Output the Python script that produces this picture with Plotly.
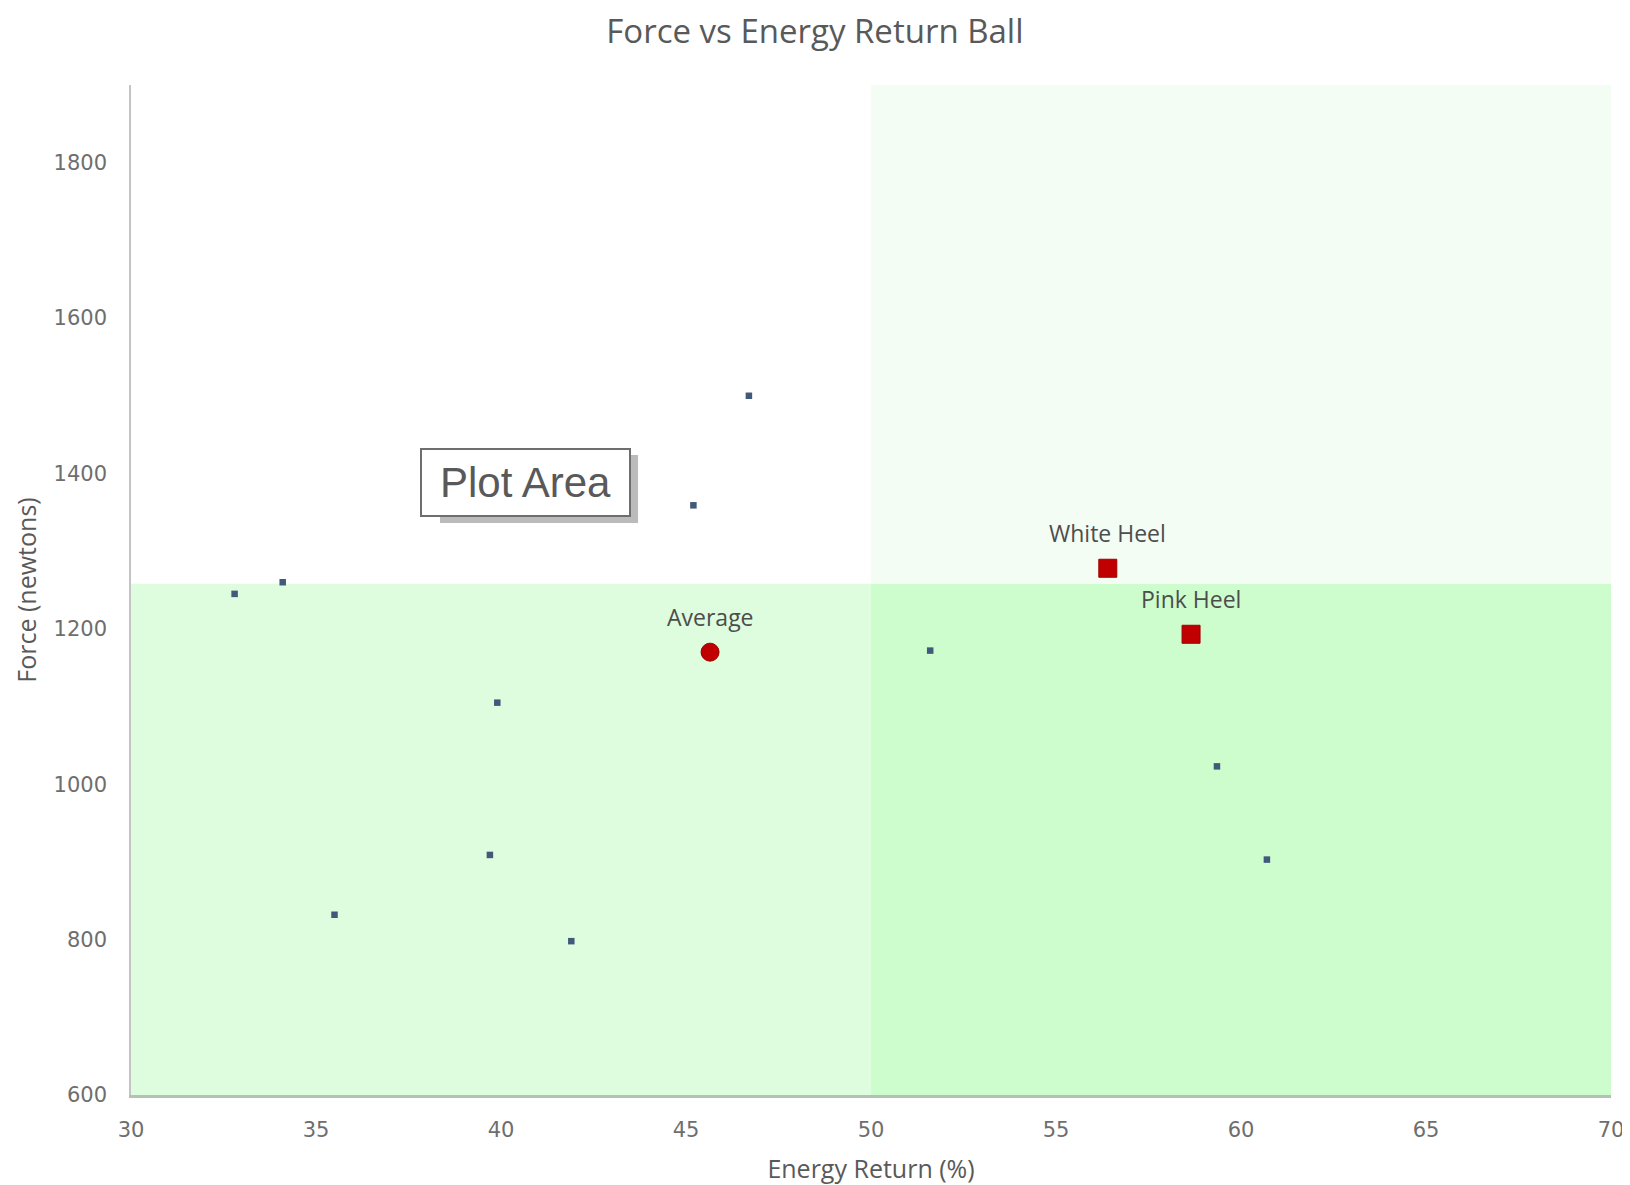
import plotly.graph_objects as go

# ---- data ----
energy_return = [32.8, 34.1, 35.5, 39.7, 39.9, 41.9, 45.2, 46.7, 51.6, 59.35, 60.7]
force = [1245, 1260, 832, 909, 1105, 798, 1359, 1500, 1172, 1023, 903]

avg_name = ["Average"]
avg_x = [45.65]
avg_y = [1170]

heel_names = ["White Heel", "Pink Heel"]
heel_x = [56.4, 58.65]
heel_y = [1278, 1193]

x_range = [30, 70]
y_range = [600, 1900]
x_ticks = [30, 35, 40, 45, 50, 55, 60, 65, 70]
y_ticks = [600, 800, 1000, 1200, 1400, 1600, 1800]
x_split = 50
y_split = 1258

TXT = "#595959"

fig = go.Figure()

# quadrant backgrounds
quads = [
    (x_range[0], x_split, y_range[0], y_split, "#defcde"),
    (x_split, x_range[1], y_range[0], y_split, "#cdfccd"),
    (x_split, x_range[1], y_split, y_range[1], "#f4fdf4"),
]
for x0, x1, y0, y1, c in quads:
    fig.add_shape(type="rect", xref="x", yref="y", x0=x0, x1=x1, y0=y0, y1=y1,
                  fillcolor=c, line=dict(width=0), layer="below")

fig.add_trace(go.Scatter(
    x=energy_return, y=force, mode="markers",
    marker=dict(symbol="square", size=6.5, color="#41597a"),
    showlegend=False, hoverinfo="x+y"))

fig.add_trace(go.Scatter(
    x=avg_x, y=avg_y, mode="markers",
    marker=dict(symbol="circle", size=18, color="#c00000",
                line=dict(color="#a00000", width=1)),
    showlegend=False))

fig.add_trace(go.Scatter(
    x=heel_x, y=heel_y, mode="markers",
    marker=dict(symbol="square", size=18, color="#c00000",
                line=dict(color="#a00000", width=1)),
    showlegend=False))

for n, xv, yv in zip(avg_name + heel_names, avg_x + heel_x, avg_y + heel_y):
    fig.add_annotation(x=xv, y=yv, xref="x", yref="y", text=n, showarrow=False,
                       yshift=35, font=dict(family="Open Sans", size=23, color="#4d4d4d"))

# "Plot Area" label box with shadow
fig.add_shape(type="rect", xref="paper", yref="paper",
              x0=0.2088, x1=0.3426, y0=0.5663, y1=0.6337,
              fillcolor="rgba(120,120,120,0.5)", line=dict(width=0), layer="above")
fig.add_annotation(xref="paper", yref="paper", x=0.2666, y=0.6064,
                   text="Plot Area", showarrow=False,
                   font=dict(family="Liberation Sans, Arial", size=42, color=TXT),
                   bgcolor="white", bordercolor="#6e6e6e", borderwidth=2, borderpad=4,
                   width=199, height=57, xanchor="center", yanchor="middle")

# page has an 8px body margin, so the figure is sized/offset to compensate
fig.update_layout(
    width=1622, height=1177,
    margin=dict(l=123, r=19, t=77, b=90),
    paper_bgcolor="white", plot_bgcolor="white",
    title=dict(text="Force vs Energy Return Ball", x=0.4975, xanchor="center",
               y=1 - 23 / 1177, yanchor="middle", yref="container",
               font=dict(family="Open Sans", size=33, color=TXT)),
    xaxis=dict(range=x_range, tickvals=x_ticks, showgrid=False, zeroline=False,
               showline=True, linecolor="#b3c3b3", linewidth=3, automargin=False,
               ticks="", ticklabelstandoff=14,
               tickfont=dict(family="DejaVu Sans", size=21, color="#6e6e6e"),
               title=dict(text="Energy Return (%)", standoff=20,
                          font=dict(family="Open Sans", size=25, color=TXT))),
    yaxis=dict(range=y_range, tickvals=y_ticks, showgrid=False, zeroline=False,
               showline=True, linecolor="#c4c4c4", linewidth=1.5, automargin=False,
               ticks="", ticklabelstandoff=18,
               tickfont=dict(family="DejaVu Sans", size=21, color="#6e6e6e"),
               title=dict(text="Force (newtons)", standoff=10,
                          font=dict(family="Open Sans", size=25, color=TXT))),
)

fig.write_html("out.html")
